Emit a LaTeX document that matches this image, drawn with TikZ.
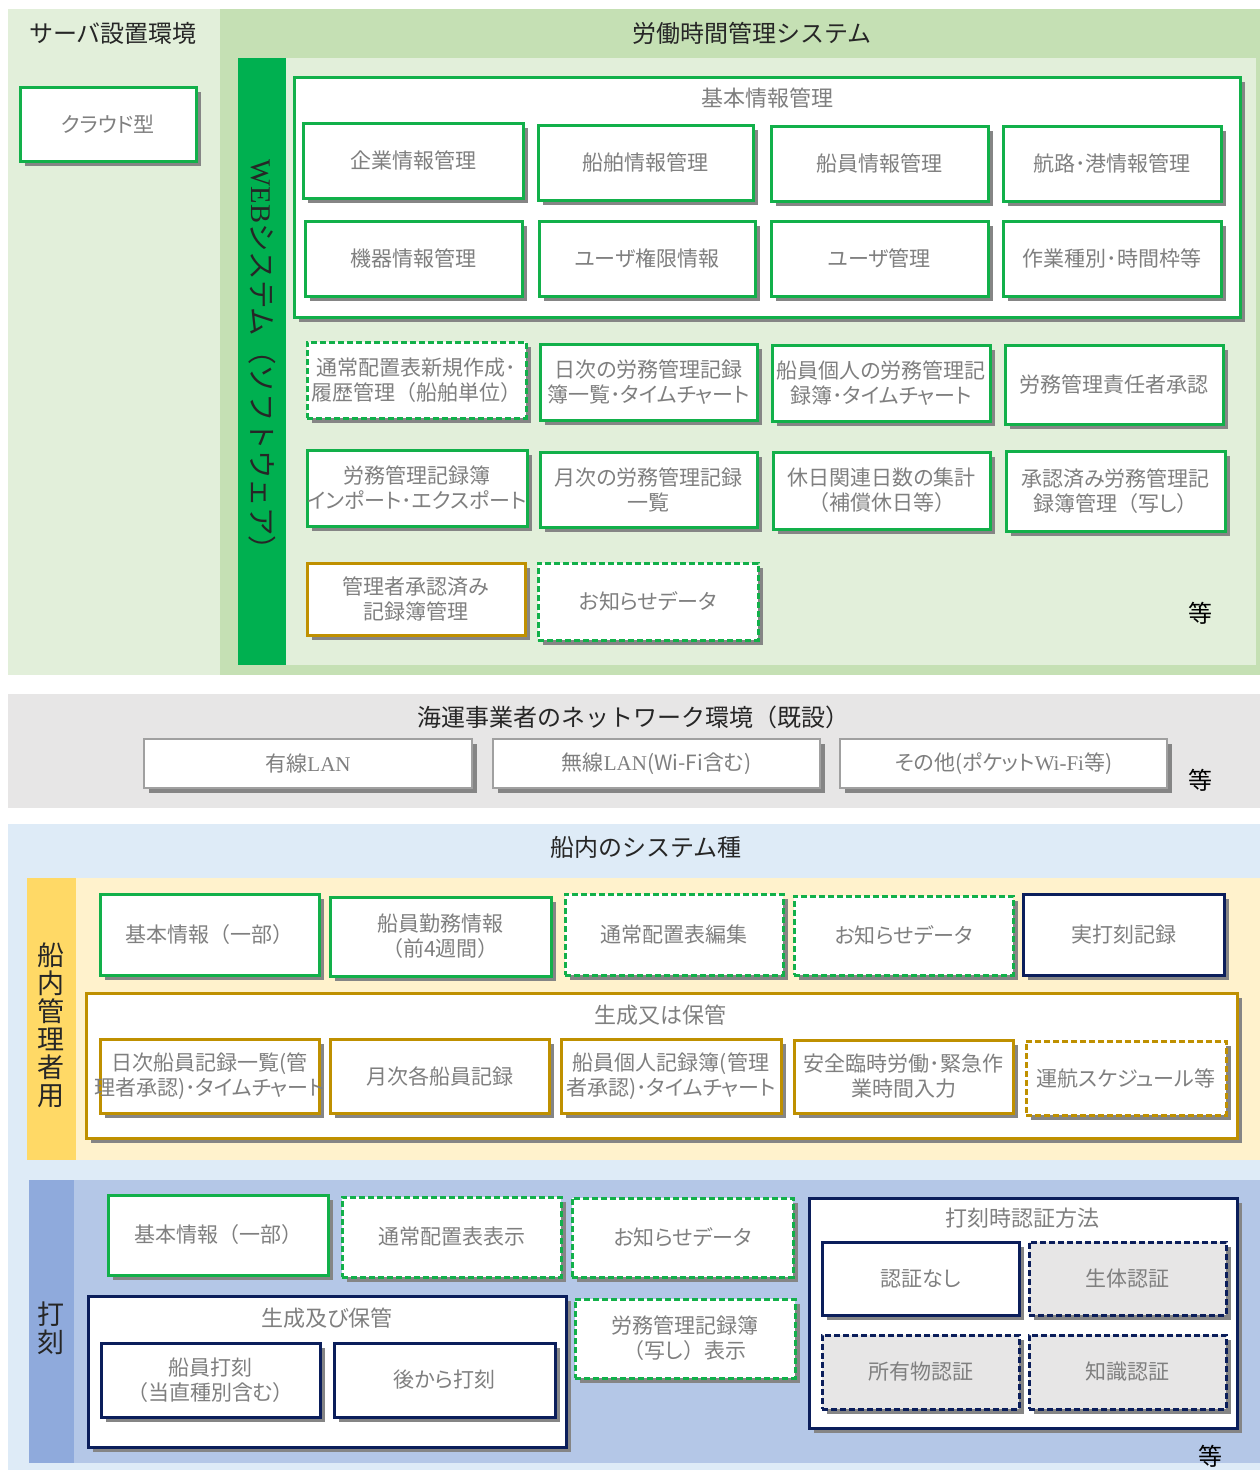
\documentclass[tikz,border=0pt]{standalone}
\usepackage{fontspec}
\setmainfont{Noto Sans CJK JP}[RawFeature={+palt}]
\newfontfamily\jpfull{Noto Sans CJK JP}
\newfontfamily\lat{Liberation Serif}
\usetikzlibrary{shadows}
\definecolor{lgreen}{HTML}{E2EFDA}
\definecolor{mgreen}{HTML}{C5E0B4}
\definecolor{bargreen}{HTML}{00B050}
\definecolor{grn}{HTML}{12B04A}
\definecolor{secgray}{HTML}{E7E6E6}
\definecolor{lblue}{HTML}{DEEBF7}
\definecolor{mblue}{HTML}{B4C7E7}
\definecolor{bluelabel}{HTML}{8FAADC}
\definecolor{lyellow}{HTML}{FFF2CC}
\definecolor{yellowlabel}{HTML}{FFD966}
\definecolor{gold}{HTML}{BF9000}
\definecolor{navy}{HTML}{0B1E5B}
\definecolor{txt}{HTML}{7F7F7F}
\definecolor{dark}{HTML}{262626}
\definecolor{shd}{HTML}{858585}
\definecolor{netgray}{HTML}{A0A0A0}
\definecolor{authgray}{HTML}{E7E6E6}
\newcommand\fBx{\fontsize{21pt}{25pt}\selectfont}
\newcommand\fTi{\fontsize{22pt}{26pt}\selectfont}
\newcommand\fSec{\jpfull\fontsize{24pt}{28pt}\selectfont}
\newcommand\fVt{\jpfull\fontsize{27pt}{28pt}\selectfont}
\newcommand\lpar{{\jpfull （}}
\newcommand\rpar{{\jpfull ）}}
\newcommand\twol[2]{\makebox[0pt]{#1}\\\makebox[0pt]{#2}}
\newcommand\rbox[7]{\node[#1, minimum width={(#5)-(#3)}, minimum height={(#6)-(#4)}] (#2) at ({((#3)+(#5))/2},{((#4)+(#6))/2}) {#7};}
\tikzset{
  sh/.style={drop shadow={shadow xshift=5pt,shadow yshift=-5pt,fill=shd,opacity=1}},
  bx/.style={draw, fill=white, line width=3pt, align=center, text=txt, font=\fBx, inner sep=0pt, sh},
  gbox/.style={bx, draw=grn},
  gdash/.style={gbox, dash pattern=on 6pt off 3pt},
  ybox/.style={bx, draw=gold},
  ydash/.style={ybox, dash pattern=on 6pt off 3pt},
  nbox/.style={bx, draw=navy},
  ndash/.style={nbox, fill=authgray, dash pattern=on 6pt off 3pt},
  netbox/.style={bx, draw=netgray, line width=2pt},
  ttl/.style={text=txt, font=\fTi, inner sep=0pt},
  sect/.style={text=dark, font=\fSec, inner sep=0pt},
  etc/.style={text=black, font=\fSec, inner sep=0pt},
  vlab/.style={text=dark, font=\fVt, align=center, inner sep=0pt},
}
\begin{document}
\begin{tikzpicture}[x=1pt,y=-1pt]
\useasboundingbox (0,0) rectangle (1260,1470);
\fill[white] (0,0) rectangle (1260,1470);
% ---------- panels ----------
\fill[lgreen] (8,9) rectangle (220,675);
\fill[mgreen] (220,9) rectangle (1260,675);
\fill[lgreen] (286,58) rectangle (1256,665);
\fill[bargreen] (238,58) rectangle (286,665);
\fill[secgray] (8,694) rectangle (1260,808);
\fill[lblue] (8,824) rectangle (1260,1470);
\fill[lyellow] (76,878) rectangle (1260,1160);
\fill[yellowlabel] (27,878) rectangle (76,1160);
\fill[mblue] (74,1180) rectangle (1260,1463);
\fill[bluelabel] (29,1180) rectangle (74,1463);
% ---------- section titles ----------
\node[sect] (tServer) at (113,33) {サーバ設置環境};
\node[sect] (tSystem) at (752,33) {労働時間管理システム};
\node[sect] (tNet) at (633,717) {海運事業者のネットワーク環境（既設）};
\node[sect] (tShip) at (646,847) {船内のシステム種};
\node[vlab, rotate=-90, font=\jpfull\fontsize{28.5pt}{30pt}\selectfont] (web) at (262,362) {{\lat WEB}システム（ソフトウェア）};
\node[vlab] (vMgr) at (51,1025) {船\\内\\管\\理\\者\\用};
\node[vlab] (vStamp) at (51,1328) {打\\刻};
% ---------- server ----------
\rbox{gbox}{cloud}{20}{87}{196}{161}{クラウド型}
% ---------- basic info ----------
\rbox{gbox}{kihon}{294}{77}{1240}{317}{}
\node[ttl] (kihonT) at (767,98) {基本情報管理};
\rbox{gbox}{k1}{303}{123}{523}{198}{企業情報管理}
\rbox{gbox}{k2}{538}{125}{753}{200}{船舶情報管理}
\rbox{gbox}{k3}{771}{126}{988}{201}{船員情報管理}
\rbox{gbox}{k4}{1003}{126}{1221}{201}{航路･港情報管理}
\rbox{gbox}{k5}{305}{221}{522}{296}{機器情報管理}
\rbox{gbox}{k6}{539}{221}{755}{296}{ユーザ権限情報}
\rbox{gbox}{k7}{771}{221}{988}{296}{ユーザ管理}
\rbox{gbox}{k8}{1003}{221}{1221}{296}{作業種別･時間枠等}
% ---------- web functions ----------
\rbox{gdash}{w1}{307}{342}{526}{418}{\twol{通常配置表新規作成･}{履歴管理\lpar 船舶単位\rpar}}
\rbox{gbox}{w2}{540}{344}{757}{420}{\twol{日次の労務管理記録}{簿一覧･タイムチャート}}
\rbox{gbox}{w3}{772}{345}{990}{421}{\twol{船員個人の労務管理記}{録簿･タイムチャート}}
\rbox{gbox}{w4}{1005}{345}{1223}{424}{労務管理責任者承認}
\rbox{gbox}{w5}{307}{450}{527}{526}{\twol{労務管理記録簿}{インポート･エクスポート}}
\rbox{gbox}{w6}{540}{452}{757}{527}{\twol{月次の労務管理記録}{一覧}}
\rbox{gbox}{w7}{773}{452}{990}{529}{\twol{休日関連日数の集計}{\lpar 補償休日等\rpar}}
\rbox{gbox}{w8}{1006}{451}{1225}{531}{\twol{承認済み労務管理記}{録簿管理\lpar 写し\rpar}}
\rbox{ybox}{w9}{307}{563}{525}{635}{\twol{管理者承認済み}{記録簿管理}}
\rbox{gdash}{w10}{538}{563}{758}{640}{お知らせデータ}
\node[etc] (etc1) at (1200,613) {等};
% ---------- network ----------
\rbox{netbox}{n1}{144}{739}{472}{788}{有線{\lat LAN}}
\rbox{netbox}{n2}{493}{739}{820}{788}{無線{\lat LAN}(Wi-Fi含む)}
\rbox{netbox}{n3}{840}{739}{1167}{788}{その他(ポケット{\lat Wi-Fi}等)}
\node[etc] (etc2) at (1200,780) {等};
% ---------- ship manager ----------
\rbox{gbox}{m1}{100}{894}{319}{975}{基本情報\lpar 一部\rpar}
\rbox{gbox}{m2}{330}{897}{551}{976}{\twol{船員勤務情報}{（前4週間）}}
\rbox{gdash}{m3}{565}{894}{783}{975}{通常配置表編集}
\rbox{gdash}{m4}{794}{896}{1013}{975}{お知らせデータ}
\rbox{nbox}{m5}{1023}{894}{1224}{975}{実打刻記録}
\rbox{ybox}{gen}{86}{993}{1237}{1138}{}
\node[ttl] (genT) at (660,1015) {生成又は保管};
\rbox{ybox}{g1}{100}{1039}{319}{1113}{\twol{日次船員記録一覧(管}{理者承認)･タイムチャート}}
\rbox{ybox}{g2}{330}{1039}{549}{1113}{月次各船員記録}
\rbox{ybox}{g3}{561}{1039}{781}{1113}{\twol{船員個人記録簿(管理}{者承認)･タイムチャート}}
\rbox{ybox}{g4}{794}{1040}{1013}{1113}{\twol{安全臨時労働･緊急作}{業時間入力}}
\rbox{ydash}{g5}{1026}{1041}{1226}{1115}{運航スケジュール等}
% ---------- stamping ----------
\rbox{gbox}{s1}{108}{1195}{328}{1275}{基本情報\lpar 一部\rpar}
\rbox{gdash}{s2}{342}{1197}{561}{1277}{通常配置表表示}
\rbox{gdash}{s3}{572}{1198}{793}{1277}{お知らせデータ}
\rbox{gdash}{s4}{575}{1299}{795}{1378}{\twol{労務管理記録簿}{\lpar 写し\rpar 表示}}
\rbox{nbox}{keep}{88}{1296}{566}{1447}{}
\node[ttl] (keepT) at (327,1318) {生成及び保管};
\rbox{nbox}{p1}{101}{1343}{320}{1417}{\twol{船員打刻}{（当直種別含む）}}
\rbox{nbox}{p2}{334}{1343}{555}{1417}{後から打刻}
\rbox{nbox}{auth}{809}{1198}{1237}{1428}{}
\node[ttl] (authT) at (1022,1218) {打刻時認証方法};
\rbox{nbox}{a1}{822}{1242}{1019}{1315}{認証なし}
\rbox{ndash}{a2}{1029}{1242}{1226}{1315}{生体認証}
\rbox{ndash}{a3}{822}{1335}{1019}{1409}{所有物認証}
\rbox{ndash}{a4}{1029}{1335}{1226}{1409}{知識認証}
\node[etc] (etc3) at (1210,1456) {等};
\end{tikzpicture}
\end{document}
